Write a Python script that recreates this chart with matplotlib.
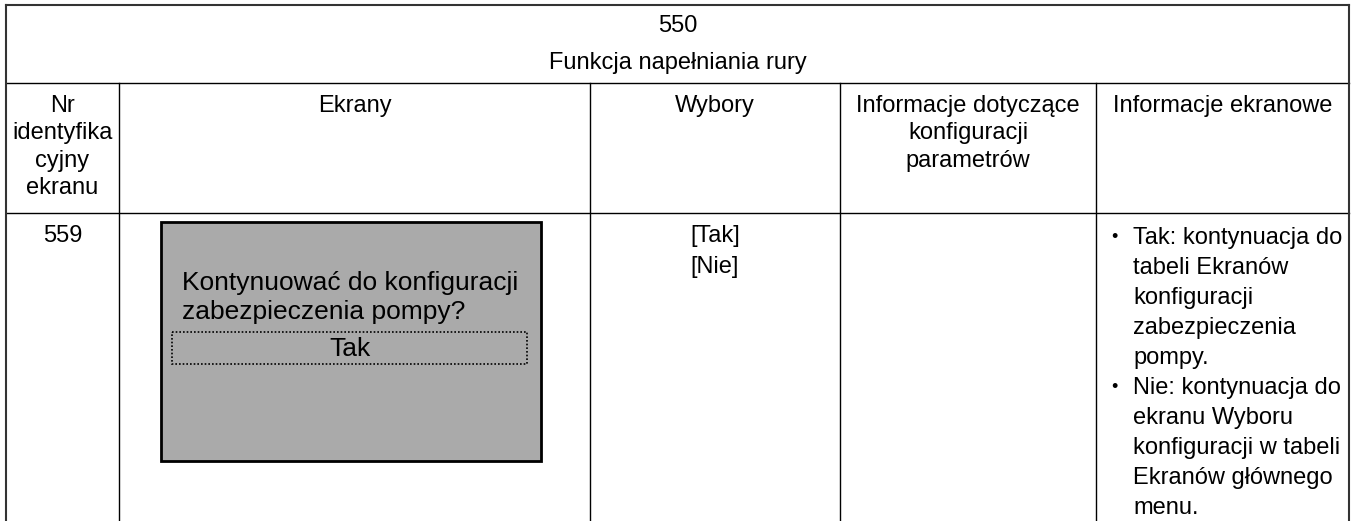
import matplotlib
matplotlib.use('Agg')
import matplotlib.pyplot as plt
from matplotlib.patches import Rectangle

plt.rcParams['font.family'] = ['Liberation Sans', 'DejaVu Sans']

#table content
title_lines = ['550', 'Funkcja napełniania rury']
col_headers = ['Nr\nidentyfika\ncyjny\nekranu', 'Ekrany', 'Wybory',
               'Informacje dotyczące\nkonfiguracji\nparametrów', 'Informacje ekranowe']
screen_id = '559'
screen_text = ['Kontynuować do konfiguracji', 'zabezpieczenia pompy?']
screen_selected = 'Tak'
choices = ['[Tak]', '[Nie]']
info_bullets = [['Tak: kontynuacja do', 'tabeli Ekranów', 'konfiguracji', 'zabezpieczenia', 'pompy.'],
                ['Nie: kontynuacja do', 'ekranu Wyboru', 'konfiguracji w tabeli', 'Ekranów głównego', 'menu.']]

#layout in pixel coordinates
W, H = 1353, 521
col_x = [6, 119, 590, 840, 1096, 1349]
row_y = [5, 83, 213]

fig = plt.figure(figsize=(W / 100, H / 100), dpi=100)
ax = fig.add_axes([0, 0, 1, 1])
ax.set_xlim(0, W)
ax.set_ylim(H, 0)
ax.axis('off')

fs = 17
#grid lines
ax.plot([col_x[0], col_x[-1]], [row_y[0], row_y[0]], color='#333333', lw=1.5)
for y in row_y[1:]:
    ax.plot([col_x[0], col_x[-1]], [y, y], color='black', lw=1)
for i, x in enumerate(col_x):
    edge = i in (0, len(col_x) - 1)
    y0 = row_y[0] if edge else row_y[1]
    ax.plot([x, x], [y0, H], color='#333333' if edge else 'black', lw=1.5 if edge else 1)

#title
ax.text((col_x[0] + col_x[-1]) / 2, 26, title_lines[0], ha='center', va='center', fontsize=fs)
ax.text((col_x[0] + col_x[-1]) / 2, 63, title_lines[1], ha='center', va='center', fontsize=fs)

#column headers
for i, h in enumerate(col_headers):
    ax.text((col_x[i] + col_x[i + 1]) / 2, 95, h, ha='center', va='top', fontsize=fs,
            linespacing=1.31)

#id
ax.text((col_x[0] + col_x[1]) / 2, 236, screen_id, ha='center', va='center', fontsize=fs)

#screen mockup
ax.add_patch(Rectangle((161, 222), 380, 239, facecolor='#aaaaaa', edgecolor='black', lw=2))
for k, t in enumerate(screen_text):
    ax.text(182, 283 + k * 29, t, ha='left', va='center', fontsize=19)
ax.add_patch(Rectangle((172, 332), 355, 32, facecolor='none', edgecolor='black',
                       lw=1.2, linestyle=(0, (1, 1.2))))
ax.text(350, 349, screen_selected, ha='center', va='center', fontsize=19)

#choices
for k, c in enumerate(choices):
    ax.text((col_x[2] + col_x[3]) / 2, 236 + k * 31, c, ha='center', va='center', fontsize=fs)

#screen info bullets
y = 238
for item in info_bullets:
    for j, line in enumerate(item):
        if j == 0:
            ax.text(1114, y, '•', ha='center', va='center', fontsize=13)
        ax.text(1133, y, line, ha='left', va='center', fontsize=fs)
        y += 30

fig.savefig('out.png', dpi=100)
